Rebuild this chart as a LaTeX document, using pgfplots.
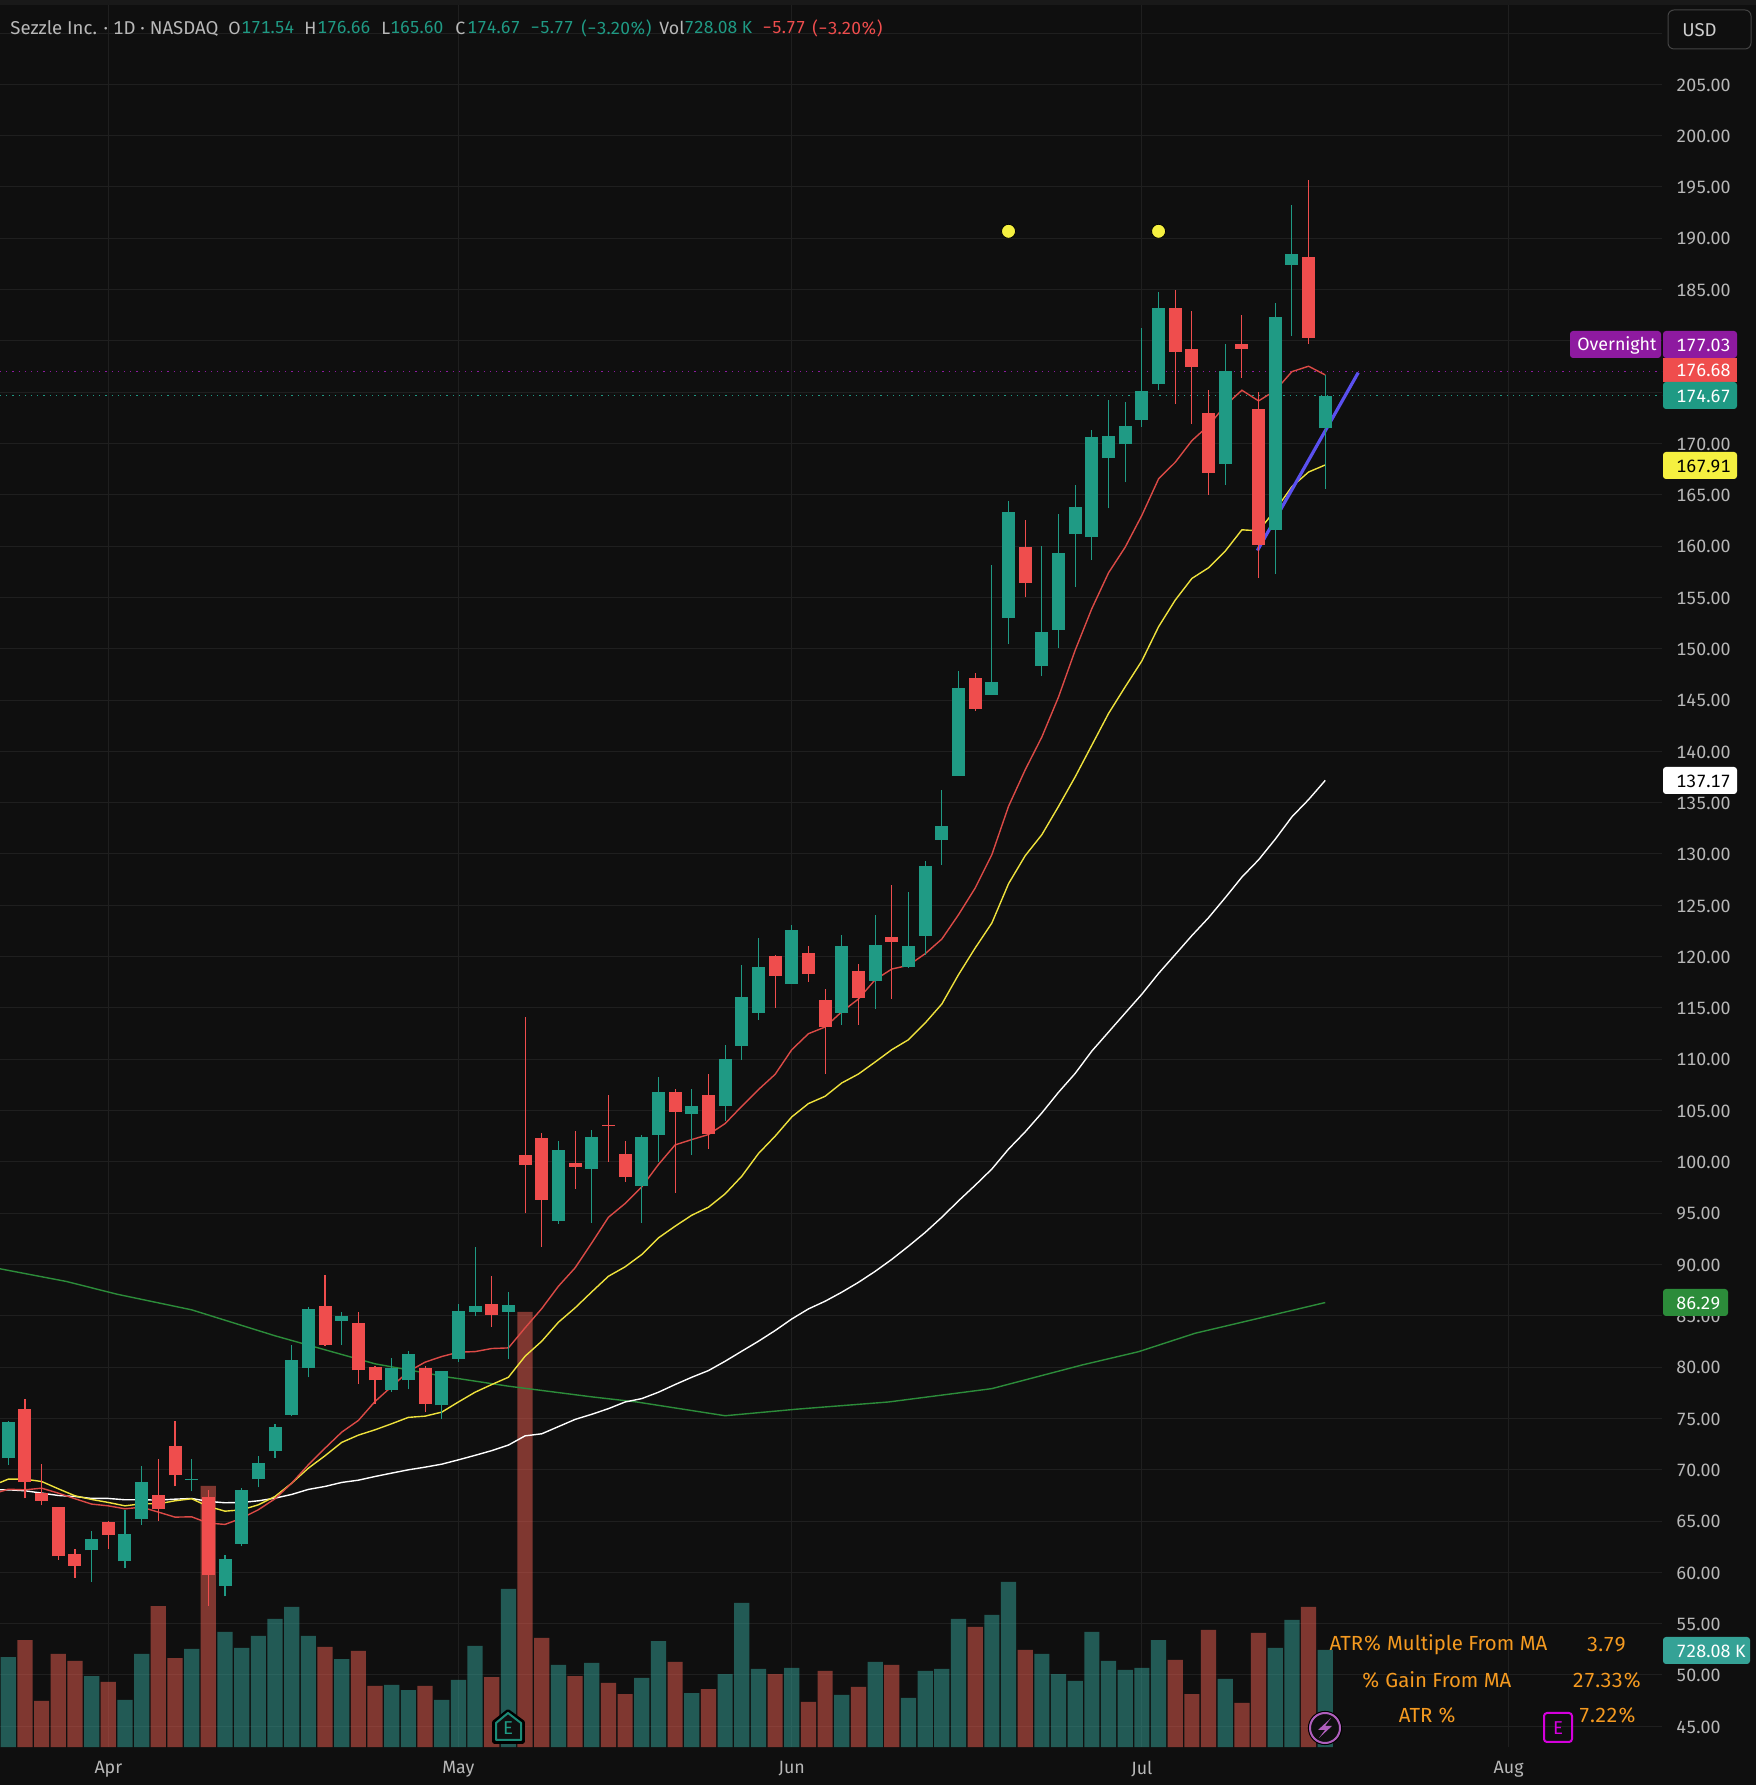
\documentclass[border=0pt]{standalone}
\usepackage{fontspec}
\setmainfont{Fira Sans}[Numbers=Monospaced]
\usepackage{pgfplots}
\usepackage{pgfplotstable}
\pgfplotsset{compat=1.18}
\definecolor{bg}{HTML}{0F0F0F}
\definecolor{gridc}{HTML}{1F1F1F}
\definecolor{GC}{HTML}{1F9A84}
\definecolor{RC}{HTML}{EF4D4D}
\definecolor{VG}{HTML}{35A59B}
\definecolor{VR}{HTML}{EF5F51}
\definecolor{MAred}{HTML}{DB4A46}
\definecolor{MAyel}{HTML}{EFE23C}
\definecolor{MAgrn}{HTML}{2C8C3A}
\definecolor{trend}{HTML}{5A50F0}
\definecolor{txt}{HTML}{B8B8B8}
\definecolor{purp}{HTML}{8E1AA0}
\definecolor{orng}{HTML}{F59A20}
\definecolor{labg}{HTML}{35A296}
\definecolor{yel}{HTML}{F5F040}
\definecolor{earn}{HTML}{D400DC}

\pgfplotstableread{
i bot top lo hi
0 71.10 74.67 70.48 74.77
5 62.13 63.27 59.08 64.05
7 61.06 63.76 60.38 66.09
8 65.22 68.82 64.63 70.38
11 69.03 69.13 67.88 71.06
13 58.69 61.32 57.65 61.71
14 62.81 68.04 62.52 68.24
15 69.05 70.67 68.27 71.36
16 71.78 74.18 71.19 74.47
17 75.38 80.71 75.19 82.17
18 79.96 85.68 78.99 85.87
20 84.54 85.00 82.20 85.39
23 77.72 79.96 77.62 80.85
24 78.70 81.29 77.82 81.59
26 76.26 79.64 74.90 79.64
27 80.83 85.51 80.54 86.19
28 85.41 86.00 84.93 91.75
30 85.41 86.09 80.83 87.36
33 94.28 101.20 93.99 102.07
35 99.35 102.46 94.08 103.15
38 97.69 102.46 94.08 102.66
39 102.66 106.85 100.03 108.31
41 104.70 105.48 100.71 107.14
43 105.48 110.06 104.02 111.43
44 111.32 116.09 109.96 119.21
45 114.54 119.02 113.85 121.84
47 117.36 122.62 117.36 123.11
50 114.54 121.06 113.37 122.14
52 117.65 121.16 114.93 124.08
54 119.02 121.06 118.92 126.33
55 122.04 128.86 120.19 129.35
56 131.39 132.76 128.96 136.26
57 137.63 146.20 137.63 147.80
59 145.48 146.75 145.48 158.15
60 152.98 163.31 150.45 164.38
62 148.30 151.62 147.33 160.00
63 151.81 159.31 150.06 163.11
64 161.17 163.80 156.00 165.94
65 160.87 170.62 158.63 171.30
66 168.55 170.69 163.68 174.28
67 169.92 171.67 166.21 174.08
68 172.33 175.16 171.65 181.29
69 175.84 183.24 175.25 184.80
73 168.04 177.10 166.00 179.74
76 161.61 182.37 157.33 183.73
77 187.43 188.50 180.51 193.28
79 171.54 174.67 165.60 176.66
}\greencandles
\pgfplotstableread{
i bot top lo hi
1 68.76 75.94 67.20 76.91
2 66.97 67.69 66.52 70.58
3 61.55 66.39 61.22 66.39
4 60.64 61.81 59.47 62.30
6 63.66 64.93 62.30 65.02
9 66.19 67.56 65.02 71.06
10 69.44 72.33 68.37 74.77
12 59.70 67.36 56.75 68.04
19 82.20 85.97 82.07 88.99
21 79.67 84.31 78.40 85.39
22 78.70 80.03 76.45 80.12
25 76.45 79.93 75.58 80.12
29 85.12 86.19 83.95 88.92
31 99.74 100.71 94.99 114.16
32 96.33 102.37 91.75 102.85
34 99.54 99.93 97.40 103.05
36 103.45 103.55 100.03 106.56
37 98.57 100.81 98.08 102.07
40 104.90 106.85 97.01 107.14
42 102.76 106.56 101.29 108.60
46 118.14 120.09 115.02 120.19
48 118.34 120.38 117.56 121.06
49 113.17 115.80 108.59 116.87
51 116.00 118.63 113.37 119.31
53 121.45 121.94 115.90 127.01
58 144.15 147.14 143.96 147.60
61 156.39 159.90 155.02 162.53
70 178.96 183.24 173.89 185.00
71 177.49 179.25 171.94 182.95
72 167.17 173.01 165.02 175.25
74 179.25 179.74 176.42 182.56
75 160.15 173.40 156.94 175.06
78 180.32 188.21 179.74 195.71
}\redcandles
\pgfplotstableread{
i v
0 675.5
5 532.9
7 352.8
8 698.1
11 735.6
13 863.2
14 743.1
15 833.2
16 960.8
17 1050.8
18 833.2
20 660.5
23 465.4
24 427.8
26 352.8
27 502.9
28 758.1
30 1186
33 615.5
35 630.5
38 517.9
39 795.6
41 405.3
43 547.9
44 1080.9
45 585.5
47 593
50 390.3
52 638
54 367.8
55 570.5
56 585.5
57 960.8
59 990.8
60 1238.5
62 698.1
63 547.9
64 495.4
65 863.2
66 645.5
67 578
68 593
69 803.1
73 510.4
76 743.1
77 953.3
79 728.08
}\greenvol
\pgfplotstableread{
i v
1 803.1
2 345.3
3 698.1
4 645.5
6 487.9
9 1058.3
10 668
12 1959.1
19 750.6
21 720.6
22 457.9
25 457.9
29 525.4
31 3265.1
32 818.2
34 532.9
36 480.4
37 397.8
40 638
42 435.3
46 547.9
48 337.8
49 570.5
51 450.4
53 615.5
58 900.7
61 728.1
70 653
71 397.8
72 878.2
74 330.3
75 855.7
78 1050.8
}\redvol

\pgfplotsset{
 base/.style={at={(0pt,19pt)},anchor=south west,width=831pt,height=871pt,scale only axis,
   xmin=-0.498,xmax=99.2,axis line style={draw=none},tick style={draw=none}},
 nodeco/.style={base,xtick=\empty,ytick=\empty},
 price/.style={ymin=42.98,ymax=212.73},
 candle wick/.style={draw=none,mark=none,forget plot,error bars/.cd,y dir=plus,y explicit,error mark=none,
   error bar style={draw=#1,line width=0.55pt,line cap=butt}},
 candle body/.style={draw=none,mark=none,forget plot,error bars/.cd,y dir=plus,y explicit,error mark=none,
   error bar style={draw=#1,line width=6.5pt,line cap=butt}},
}
\newcommand{\T}[1]{\fontsize{#1}{#1}\selectfont}

\begin{document}
\begin{tikzpicture}
\path[use as bounding box,fill=bg] (0pt,0pt) rectangle (878pt,892.5pt);
\fill[fill=bg!40!gridc] (0pt,890pt) rectangle (878pt,892.5pt);

% grid and tick labels
\begin{axis}[base,price,
  xtick={6,27,47,68,90},xticklabels={Apr,May,Jun,Jul,Aug},
  ytick={45,50,...,210},
  yticklabels={45.00,50.00,55.00,60.00,65.00,70.00,75.00,80.00,85.00,90.00,95.00,100.00,105.00,110.00,115.00,120.00,125.00,130.00,135.00,140.00,145.00,150.00,155.00,160.00,165.00,170.00,{},{},185.00,190.00,195.00,200.00,205.00,{}},
  yticklabel pos=right,
  grid=major,grid style={draw=gridc,line width=0.5pt},
  major tick length=0pt,
  yticklabel style={anchor=west,inner sep=0pt,xshift=7pt,yshift=-0.3pt,text=txt,font=\T{8.9pt}},
  xticklabel style={anchor=center,inner sep=0pt,yshift=-11pt,text=txt,font=\T{8.9pt}},
]
\addplot[draw=none,forget plot] coordinates {(0,100)};
\end{axis}

% volume
\begin{axis}[nodeco,ymin=0,ymax=13075,ybar,bar width=7.6pt]
\addplot[fill=VG,draw=none,fill opacity=0.5,bar shift=0pt] table[x=i,y=v]{\greenvol};
\addplot[fill=VR,draw=none,fill opacity=0.5,bar shift=0pt] table[x=i,y=v]{\redvol};
\end{axis}

% price series
\begin{axis}[nodeco,price]
% last-price lines
\addplot[purp,line width=0.5pt,dash pattern=on 0.6pt off 2.5pt] coordinates {(-0.498,177.03)(99.2,177.03)};
\addplot[GC,line width=0.5pt,dash pattern=on 0.6pt off 2.5pt] coordinates {(-0.498,174.67)(99.2,174.67)};
% 200-day line
\addplot[MAgrn,line width=0.7pt] coordinates {(-0.5,89.58)(3.5,88.34)(6.5,87.11)(11,85.58)(16,83.05)(22,80.32)(26.5,78.99)(27,78.88)(30,78.14)(35,77.10)(37.7,76.6)(43,75.26)(47.3,75.9)(52.8,76.6)(59,77.9)(64.4,80.2)(67.8,81.5)(71.2,83.3)(74.6,84.6)(79,86.29)};
% 50-day line
\addplot[white,line width=0.7pt] coordinates {(-0.5,68.05)(0,68.04)(1,67.95)(2,67.72)(3,67.49)(4,67.39)(5,67.2)(6,67.2)(7,67.07)(8,67.07)(9,67.04)(10,67.13)(11,67.2)(12,66.91)(13,66.78)(14,66.81)(15,66.97)(16,67.23)(17,67.59)(18,68.08)(19,68.37)(20,68.76)(21,68.98)(22,69.34)(23,69.67)(24,69.99)(25,70.25)(26,70.54)(27,70.96)(28,71.4)(29,71.86)(30,72.4)(31,73.3)(32,73.5)(33,74.2)(34,74.9)(35,75.4)(36,75.95)(37,76.6)(38,76.93)(39,77.55)(40,78.3)(41,79.01)(42,79.66)(43,80.57)(44,81.55)(45,82.52)(46,83.56)(47,84.69)(48,85.67)(49,86.42)(50,87.3)(51,88.26)(52,89.33)(53,90.5)(54,91.78)(55,93.12)(56,94.6)(57,96.2)(58,97.72)(59,99.3)(60,101.24)(61,102.92)(62,104.77)(63,106.78)(64,108.62)(65,110.8)(66,112.65)(67,114.5)(68,116.34)(69,118.36)(70,120.2)(71,122.05)(72,123.79)(73,125.74)(74,127.75)(75,129.43)(76,131.44)(77,133.62)(78,135.3)(79,137.17)};
% 21-day line
\addplot[MAyel,line width=0.7pt] coordinates {(-0.5,68.75)(0,69.08)(1,69.08)(2,68.85)(3,68.14)(4,67.46)(5,67.1)(6,66.81)(7,66.48)(8,66.68)(9,66.68)(10,66.97)(11,67.17)(12,66.42)(13,65.96)(14,66.09)(15,66.58)(16,67.39)(17,68.69)(18,70.15)(19,71.36)(20,72.66)(21,73.37)(22,73.89)(23,74.48)(24,75.1)(25,75.22)(26,75.61)(27,76.6)(28,77.55)(29,78.3)(30,79.01)(31,81.06)(32,82.52)(33,84.37)(34,85.77)(35,87.33)(36,88.85)(37,89.77)(38,90.97)(39,92.59)(40,93.73)(41,94.8)(42,95.58)(43,96.88)(44,98.6)(45,100.81)(46,102.5)(47,104.38)(48,105.68)(49,106.39)(50,107.69)(51,108.56)(52,109.73)(53,110.93)(54,111.9)(55,113.53)(56,115.38)(57,118.24)(58,120.84)(59,123.27)(60,127.1)(61,129.83)(62,131.88)(63,134.64)(64,137.52)(65,140.61)(66,143.69)(67,146.29)(68,148.82)(69,152.14)(70,154.74)(71,156.85)(72,157.89)(73,159.51)(74,161.59)(75,161.49)(76,163.5)(77,165.8)(78,167.22)(79,167.91)};
% 8-day line
\addplot[MAred,line width=0.7pt] coordinates {(-0.5,67.85)(0,68.1)(1,68.04)(2,68.2)(3,67.72)(4,67.17)(5,66.65)(6,66.48)(7,66.19)(8,66.35)(9,65.87)(10,65.38)(11,65.41)(12,64.8)(13,64.67)(14,65.28)(15,66.1)(16,67.17)(17,68.69)(18,70.48)(19,72.1)(20,73.66)(21,74.8)(22,76.65)(23,78.11)(24,79.57)(25,80.48)(26,81.03)(27,81.45)(28,81.51)(29,81.81)(30,81.87)(31,83.82)(32,85.7)(33,87.88)(34,89.67)(35,92.1)(36,94.6)(37,95.94)(38,97.56)(39,99.74)(40,101.65)(41,102.17)(42,102.66)(43,103.73)(44,105.42)(45,107.04)(46,108.53)(47,110.93)(48,112.49)(49,113.14)(50,114.63)(51,115.87)(52,117.75)(53,118.79)(54,119.15)(55,120.28)(56,121.71)(57,124.08)(58,126.68)(59,129.93)(60,134.64)(61,138.2)(62,141.4)(63,145.3)(64,149.86)(65,153.92)(66,157.4)(67,159.9)(68,163.0)(69,166.55)(70,168.17)(71,170.28)(72,171.75)(73,173.7)(74,175.19)(75,174.15)(76,175.16)(77,177.0)(78,177.53)(79,176.68)};
% trend line
\addplot[trend,line width=1.6pt] coordinates {(74.93,159.57)(80.98,176.91)};
% candles
\addplot[candle wick=GC] table[x=i,y=lo,y error plus expr=\thisrow{hi}-\thisrow{lo}]{\greencandles};
\addplot[candle wick=RC] table[x=i,y=lo,y error plus expr=\thisrow{hi}-\thisrow{lo}]{\redcandles};
\addplot[candle body=GC] table[x=i,y=bot,y error plus expr=\thisrow{top}-\thisrow{bot}]{\greencandles};
\addplot[candle body=RC] table[x=i,y=bot,y error plus expr=\thisrow{top}-\thisrow{bot}]{\redcandles};
% markers
\addplot[only marks,mark=*,mark size=3.5pt,mark options={fill=yel,draw=none}] coordinates {(60,190.68)(69,190.68)};
\end{axis}

% overlays in reference pixels
\begin{scope}[shift={(0pt,892.5pt)},x=0.5pt,y=-0.5pt]
% header
\tikzset{h/.style={anchor=west,inner sep=0pt,font=\T{8.9pt}}}
\node[h,text=txt,font=\T{9.3pt}] at (10,28) {Sezzle Inc. · 1D · NASDAQ};
\node[h,text=txt] at (228,28) {O};
\node[h,text=GC,font=\T{8.7pt}] at (241,28) {171.54};
\node[h,text=txt] at (304,28) {H};
\node[h,text=GC,font=\T{8.7pt}] at (317,28) {176.66};
\node[h,text=txt] at (381,28) {L};
\node[h,text=GC,font=\T{8.7pt}] at (390,28) {165.60};
\node[h,text=txt] at (455,28) {C};
\node[h,text=GC,font=\T{8.7pt}] at (467,28) {174.67};
\node[h,text=GC,font=\T{8.7pt}] at (530,28) {−5.77};
\node[h,text=GC,font=\T{8.7pt}] at (581,28) {(−3.20\%)};
\node[h,text=txt] at (659,28) {Vol};
\node[h,text=GC,font=\T{8.7pt}] at (684,28) {728.08 K};
\node[h,text=RC,font=\T{8.7pt}] at (762,28) {−5.77};
\node[h,text=RC,font=\T{8.7pt}] at (812,28) {(−3.20\%)};
% currency box
\draw[draw=white!22!bg,line width=0.5pt,rounded corners=3pt] (1668,10) rectangle (1751,49);
\node[h,text=white!80!black,font=\T{9.3pt}] at (1682,30) {USD};
% price labels
\fill[purp,rounded corners=1.5pt] (1570,331) rectangle (1661,358);
\node[h,text=white,font=\T{8.9pt}] at (1577,345) {Overnight};
\fill[purp,rounded corners=1.5pt] (1663,331) rectangle (1737,358);
\node[h,text=white] at (1676,345) {177.03};
\fill[RC] (1663,358) rectangle (1737,382);
\node[h,text=white] at (1676,370.5) {176.68};
\fill[GC,rounded corners=1.5pt] (1663,382) rectangle (1737,409);
\node[h,text=white] at (1676,396) {174.67};
\fill[yel,rounded corners=1.5pt] (1663,452) rectangle (1737,479);
\node[h,text=black] at (1676,466) {167.91};
\fill[white,rounded corners=1.5pt] (1663,767) rectangle (1737,794);
\node[h,text=black] at (1676,781) {137.17};
\fill[MAgrn,rounded corners=1.5pt] (1663,1289) rectangle (1728,1316);
\node[h,text=white] at (1676,1303) {86.29};
\fill[labg,rounded corners=1.5pt] (1663,1637) rectangle (1750,1664);
\node[h,text=white] at (1676,1651) {728.08 K};
% indicator table
\tikzset{o/.style={anchor=center,inner sep=0pt,text=orng,font=\T{10.2pt}}}
\node[o] at (1438.5,1645) {ATR\% Multiple From MA};
\node[o] at (1606.5,1645) {3.79};
\node[o] at (1436.5,1680) {\% Gain From MA};
\node[o] at (1607,1680) {27.33\%};
\node[o] at (1427.5,1715) {ATR \%};
\node[o] at (1607.5,1715) {7.22\%};
% earnings box
\draw[draw=earn,line width=1pt,rounded corners=1.5pt] (1544,1713) rectangle (1572,1742);
\node[anchor=center,inner sep=0pt,text=earn,font=\T{9.3pt}] at (1558,1728) {E};
% earnings flag
\draw[draw=black,fill=bg,line width=1.8pt,line join=round] (508,1711)--(523,1722)--(523,1742)--(494,1742)--(494,1722)--cycle;
\draw[draw=GC!90!black,line width=1pt,line join=round] (508,1713)--(521,1723)--(521,1740)--(496,1740)--(496,1723)--cycle;
\node[anchor=center,inner sep=0pt,text=GC,font=\T{9.3pt}] at (508,1728) {E};
% lightning flag
\draw[draw=black,fill=bg,line width=0.6pt] (1325,1728) circle[radius=16.5];
\draw[draw=purp!70!white,line width=1pt] (1325,1728) circle[radius=15];
\fill[purp!70!white] (1331,1718)--(1318,1730)--(1325,1730)--(1319,1738)--(1332,1726)--(1325,1726)--cycle;
\end{scope}
\end{tikzpicture}
\end{document}
